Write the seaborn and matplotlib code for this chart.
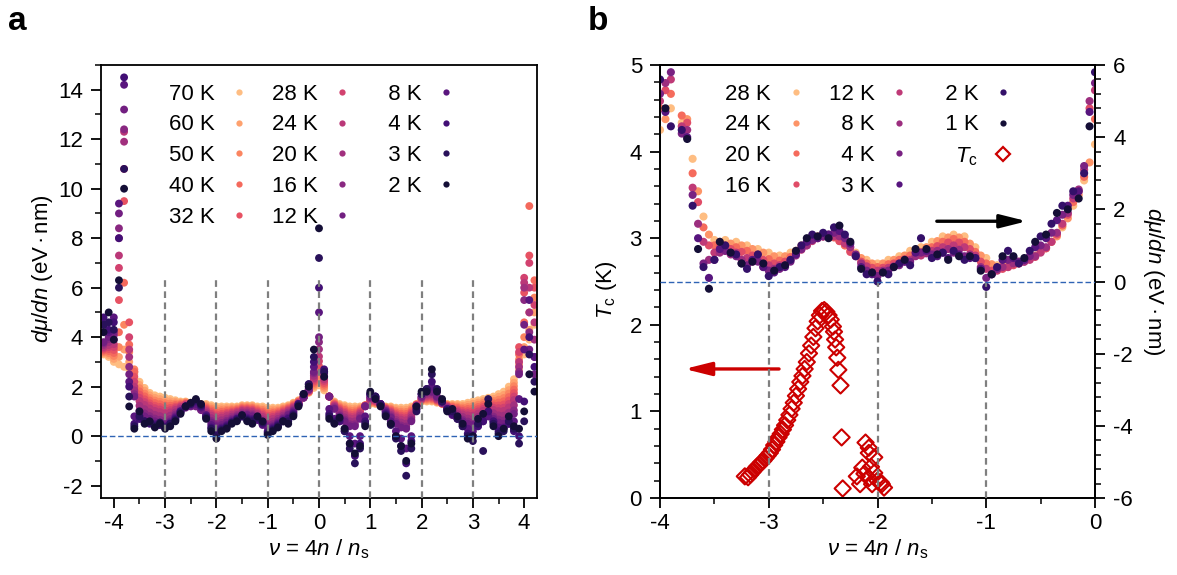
import numpy as np
import pandas as pd
import matplotlib
matplotlib.use('Agg')
import matplotlib.pyplot as plt
from matplotlib.lines import Line2D
from matplotlib.ticker import MultipleLocator
import seaborn as sns

# ---------------- panel a : dmu/dn (eV nm) vs filling, 70 K ... 2 K ----------------
NU_A = [-4.2, -4.1, -4.0, -3.9, -3.8, -3.7, -3.6, -3.5, -3.4, -3.3,
        -3.2, -3.1, -3.0, -2.9, -2.8, -2.7, -2.6, -2.5, -2.4, -2.3,
        -2.2, -2.1, -2.0, -1.9, -1.8, -1.7, -1.6, -1.5, -1.4, -1.3,
        -1.2, -1.1, -1.0, -0.9, -0.8, -0.7, -0.6, -0.5, -0.4, -0.3,
        -0.2, -0.1, 0.0, 0.1, 0.2, 0.3, 0.4, 0.5, 0.6, 0.7,
        0.8, 0.9, 1.0, 1.1, 1.2, 1.3, 1.4, 1.5, 1.6, 1.7,
        1.8, 1.9, 2.0, 2.1, 2.2, 2.3, 2.4, 2.5, 2.6, 2.7,
        2.8, 2.9, 3.0, 3.1, 3.2, 3.3, 3.4, 3.5, 3.6, 3.7,
        3.8, 3.9, 4.0, 4.1, 4.2]

TEMPS_A = [70, 60, 50, 40, 32, 28, 24, 20, 16, 12, 8, 4, 3, 2]

A_70K = [3.3, 3.2, 3.0, 2.9, 2.8, 2.7, 2.5, 2.2, 1.95, 1.75,
         1.65, 1.6, 1.55, 1.5, 1.45, 1.4, 1.4, 1.35, 1.35, 1.3,
         1.3, 1.25, 1.2, 1.2, 1.2, 1.2, 1.2, 1.25, 1.25, 1.25,
         1.2, 1.2, 1.15, 1.15, 1.15, 1.2, 1.25, 1.35, 1.45, 1.6,
         1.75, 1.95, 2.05, 1.85, 1.6, 1.4, 1.3, 1.25, 1.2, 1.2,
         1.2, 1.25, 1.3, 1.3, 1.25, 1.2, 1.2, 1.15, 1.15, 1.15,
         1.2, 1.3, 1.4, 1.4, 1.4, 1.35, 1.3, 1.3, 1.3, 1.3,
         1.3, 1.35, 1.4, 1.45, 1.5, 1.55, 1.6, 1.7, 1.8, 2.0,
         2.3, 2.7, 3.3, 3.9, 4.5]
A_60K = [3.35, 3.28, 3.12, 3.2, 3.5, 3.0, 2.6, 2.07, 1.84, 1.65,
         1.55, 1.5, 1.45, 1.41, 1.39, 1.36, 1.38, 1.34, 1.34, 1.28,
         1.25, 1.18, 1.12, 1.13, 1.14, 1.15, 1.16, 1.21, 1.21, 1.21,
         1.15, 1.13, 1.07, 1.08, 1.09, 1.15, 1.21, 1.32, 1.43, 1.6,
         1.77, 2.02, 2.25, 1.93, 1.6, 1.37, 1.25, 1.19, 1.12, 1.12,
         1.15, 1.25, 1.33, 1.33, 1.26, 1.18, 1.16, 1.09, 1.07, 1.07,
         1.14, 1.29, 1.42, 1.44, 1.44, 1.38, 1.31, 1.28, 1.26, 1.25,
         1.23, 1.27, 1.31, 1.36, 1.42, 1.48, 1.51, 1.59, 1.67, 1.86,
         2.16, 2.9, 3.6, 4.3, 5.0]
A_50K = [3.4, 3.36, 3.24, 3.6, 4.5, 3.4, 2.7, 1.94, 1.72, 1.54,
         1.44, 1.39, 1.34, 1.32, 1.32, 1.32, 1.35, 1.32, 1.32, 1.25,
         1.2, 1.11, 1.04, 1.05, 1.07, 1.09, 1.11, 1.17, 1.17, 1.16,
         1.1, 1.06, 0.99, 1.0, 1.03, 1.1, 1.17, 1.28, 1.41, 1.59,
         1.78, 2.08, 2.44, 2.0, 1.6, 1.34, 1.2, 1.12, 1.04, 1.04,
         1.1, 1.24, 1.36, 1.35, 1.26, 1.16, 1.11, 1.02, 0.99, 0.98,
         1.08, 1.28, 1.44, 1.48, 1.48, 1.4, 1.31, 1.26, 1.22, 1.19,
         1.16, 1.18, 1.21, 1.27, 1.34, 1.4, 1.42, 1.47, 1.54, 1.72,
         2.02, 3.1, 4.0, 5.0, 5.6]
A_40K = [3.45, 3.44, 3.36, 4.2, 6.2, 3.7, 2.6, 1.81, 1.61, 1.44,
         1.34, 1.29, 1.24, 1.23, 1.26, 1.28, 1.33, 1.31, 1.31, 1.23,
         1.15, 1.04, 0.96, 0.98, 1.01, 1.04, 1.07, 1.13, 1.13, 1.12,
         1.05, 0.99, 0.91, 0.93, 0.97, 1.05, 1.13, 1.25, 1.39, 1.59,
         1.8, 2.15, 2.64, 2.08, 1.6, 1.31, 1.15, 1.06, 0.96, 0.96,
         1.05, 1.24, 1.39, 1.38, 1.27, 1.14, 1.07, 0.96, 0.91, 0.9,
         1.02, 1.27, 1.46, 1.52, 1.52, 1.43, 1.32, 1.24, 1.18, 1.14,
         1.09, 1.1, 1.12, 1.18, 1.26, 1.33, 1.33, 1.36, 1.41, 1.58,
         1.88, 3.3, 4.6, 9.3, 6.3]
A_32K = [3.5, 3.52, 3.48, 5.5, 9.5, 4.6, 2.4, 1.68, 1.49, 1.33,
         1.23, 1.18, 1.13, 1.14, 1.19, 1.24, 1.3, 1.29, 1.29, 1.2,
         1.1, 0.97, 0.88, 0.9, 0.94, 0.98, 1.02, 1.09, 1.09, 1.07,
         1.0, 0.92, 0.83, 0.85, 0.91, 1.0, 1.09, 1.21, 1.37, 1.58,
         1.81, 2.21, 2.83, 2.15, 1.6, 1.28, 1.1, 0.99, 0.88, 0.88,
         1.0, 1.23, 1.42, 1.4, 1.27, 1.12, 1.02, 0.89, 0.83, 0.81,
         0.96, 1.26, 1.48, 1.56, 1.56, 1.45, 1.32, 1.22, 1.14, 1.08,
         1.02, 1.01, 1.02, 1.09, 1.18, 1.25, 1.24, 1.24, 1.28, 1.44,
         1.74, 3.6, 5.8, 7.3, 6.0]
A_28K = [3.55, 3.6, 3.6, 6.8, 10.8, 4.0, 2.2, 1.55, 1.38, 1.23,
         1.13, 1.08, 1.03, 1.05, 1.13, 1.2, 1.28, 1.28, 1.28, 1.18,
         1.05, 0.9, 0.8, 0.83, 0.88, 0.93, 0.98, 1.05, 1.05, 1.03,
         0.95, 0.85, 0.75, 0.78, 0.85, 0.95, 1.05, 1.18, 1.35, 1.58,
         1.83, 2.28, 3.03, 2.23, 1.6, 1.25, 1.05, 0.93, 0.8, 0.8,
         0.95, 1.23, 1.45, 1.43, 1.28, 1.1, 0.98, 0.83, 0.75, 0.73,
         0.9, 1.25, 1.5, 1.6, 1.6, 1.48, 1.33, 1.2, 1.1, 1.03,
         0.95, 0.93, 0.93, 1.0, 1.1, 1.18, 1.15, 1.13, 1.15, 1.3,
         1.6, 3.4, 6.4, 7.0, 5.3]
A_24K = [3.6, 3.68, 3.72, 7.3, 12.3, 3.5, 2.0, 1.42, 1.26, 1.12,
         1.02, 0.97, 0.92, 0.96, 1.06, 1.16, 1.25, 1.26, 1.26, 1.15,
         1.0, 0.83, 0.72, 0.75, 0.81, 0.87, 0.93, 1.01, 1.01, 0.98,
         0.9, 0.78, 0.67, 0.7, 0.79, 0.9, 1.01, 1.14, 1.33, 1.57,
         1.84, 2.34, 3.22, 2.3, 1.6, 1.22, 1.0, 0.86, 0.72, 0.72,
         0.9, 1.22, 1.48, 1.45, 1.28, 1.08, 0.93, 0.76, 0.67, 0.64,
         0.84, 1.24, 1.52, 1.64, 1.64, 1.5, 1.33, 1.18, 1.06, 0.97,
         0.88, 0.84, 0.83, 0.91, 1.02, 1.1, 1.06, 1.01, 1.02, 1.16,
         1.46, 3.0, 6.2, 6.0, 4.6]
A_20K = [3.68, 3.8, 3.9, 8.0, 11.9, 3.2, 1.85, 1.23, 1.09, 0.96,
         0.86, 0.81, 0.76, 0.83, 0.96, 1.1, 1.21, 1.24, 1.24, 1.11,
         0.93, 0.73, 0.6, 0.64, 0.71, 0.79, 0.86, 0.95, 0.95, 0.91,
         0.83, 0.68, 0.55, 0.59, 0.7, 0.83, 0.95, 1.09, 1.3, 1.56,
         1.86, 2.44, 3.51, 2.41, 1.6, 1.18, 0.93, 0.76, 0.6, 0.6,
         0.83, 1.21, 1.53, 1.49, 1.29, 1.05, 0.86, 0.66, 0.55, 0.51,
         0.75, 1.23, 1.55, 1.7, 1.7, 1.54, 1.34, 1.15, 1.0, 0.89,
         0.78, 0.71, 0.69, 0.78, 0.9, 0.99, 0.93, 0.84, 0.83, 0.95,
         1.25, 2.8, 6.0, 5.0, 3.9]
A_16K = [3.75, 3.92, 4.08, 8.4, 12.4, 2.8, 1.7, 1.03, 0.92, 0.81,
         0.71, 0.66, 0.61, 0.69, 0.87, 1.04, 1.18, 1.22, 1.22, 1.08,
         0.85, 0.62, 0.48, 0.53, 0.62, 0.71, 0.8, 0.89, 0.89, 0.85,
         0.75, 0.57, 0.43, 0.48, 0.61, 0.75, 0.89, 1.04, 1.27, 1.56,
         1.89, 2.54, 3.8, 2.53, 1.6, 1.13, 0.85, 0.67, 0.48, 0.48,
         0.75, 1.21, 1.57, 1.53, 1.3, 1.02, 0.8, 0.57, 0.43, 0.39,
         0.66, 1.21, 1.58, 1.76, 1.76, 1.58, 1.35, 1.12, 0.94, 0.81,
         0.67, 0.59, 0.55, 0.64, 0.78, 0.88, 0.79, 0.67, 0.63, 0.74,
         1.04, 2.6, 5.5, 4.2, 3.2]
A_12K = [3.8, 4.0, 4.2, 9.0, 13.2, 2.5, 1.6, 0.9, 0.8, 0.7,
         0.6, 0.55, 0.5, 0.6, 0.8, 1.0, 1.15, 1.2, 1.2, 1.05,
         0.8, 0.55, 0.4, 0.45, 0.55, 0.65, 0.75, 0.85, 0.85, 0.8,
         0.7, 0.5, 0.35, 0.4, 0.55, 0.7, 0.85, 1.0, 1.25, 1.55,
         1.9, 2.6, 4.0, 2.6, 1.6, 1.1, 0.8, 0.6, 0.4, 0.4,
         0.7, 1.2, 1.6, 1.55, 1.3, 1.0, 0.75, 0.5, 0.35, 0.3,
         0.6, 1.2, 1.6, 1.8, 1.8, 1.6, 1.35, 1.1, 0.9, 0.75,
         0.6, 0.5, 0.45, 0.55, 0.7, 0.8, 0.7, 0.55, 0.5, 0.6,
         0.9, 2.5, 4.5, 3.5, 2.5]
A_8K = [4.5, 4.2, 4.8, 9.4, 14.2, 2.2, 0.8, 0.7, 0.6, 0.55,
        0.5, 0.45, 0.4, 0.55, 0.75, 1.0, 1.2, 1.25, 1.3, 1.15,
        0.85, 0.45, 0.25, 0.35, 0.45, 0.6, 0.7, 0.8, 0.75, 0.7,
        0.65, 0.45, 0.2, 0.35, 0.5, 0.65, 0.75, 0.95, 1.3, 1.65,
        2.0, 2.8, 5.0, 2.6, 1.1, 0.7, 0.6, 0.3, 0.0, -0.3,
        0.0, 0.8, 1.7, 1.6, 1.3, 0.95, 0.6, 0.2, -0.1, -0.5,
        0.0, 1.1, 1.7, 1.9, 2.0, 1.8, 1.4, 1.1, 0.85, 0.7,
        0.5, 0.3, 0.2, 0.4, 0.6, 0.8, 0.6, 0.35, 0.35, 0.5,
        0.6, 1.5, 3.5, 5.5, 3.2]
A_4K = [4.8, 4.3, 4.6, 8.0, 14.5, 2.0, 0.5, 0.7, 0.6, 0.5,
        0.45, 0.45, 0.35, 0.5, 0.7, 1.0, 1.2, 1.3, 1.4, 1.2,
        0.8, 0.35, 0.1, 0.3, 0.4, 0.55, 0.7, 0.8, 0.7, 0.65,
        0.7, 0.5, 0.15, 0.3, 0.45, 0.6, 0.7, 0.9, 1.3, 1.7,
        2.1, 3.0, 6.0, 2.7, 0.9, 0.6, 0.6, 0.2, -0.3, -0.8,
        -0.3, 0.6, 1.7, 1.6, 1.3, 0.9, 0.5, 0.0, -0.4, -1.1,
        -0.2, 1.1, 1.7, 1.9, 2.2, 1.9, 1.4, 1.1, 0.9, 0.7,
        0.4, 0.1, 0.0, 0.4, 0.6, 1.0, 0.6, 0.2, 0.3, 0.5,
        0.2, 0.0, 1.4, 4.0, 2.8]
A_3K = [4.5, 4.6, 4.3, 6.0, 10.8, 1.6, 0.4, 0.8, 0.6, 0.55,
        0.4, 0.55, 0.35, 0.5, 0.65, 0.95, 1.2, 1.3, 1.45, 1.25,
        0.75, 0.3, 0.0, 0.25, 0.35, 0.55, 0.65, 0.8, 0.65, 0.6,
        0.75, 0.55, 0.1, 0.25, 0.4, 0.6, 0.6, 0.85, 1.25, 1.7,
        2.1, 3.2, 7.2, 2.6, 0.8, 0.55, 0.7, 0.2, -0.5, -1.1,
        -0.5, 0.5, 1.7, 1.6, 1.25, 0.85, 0.45, -0.1, -0.6, -1.6,
        -0.5, 1.0, 1.7, 1.9, 2.5, 1.9, 1.4, 1.05, 1.0, 0.7,
        0.4, 0.0, -0.2, 0.5, -0.6, 1.5, 0.5, 0.1, 0.2, 0.6,
        0.3, -0.3, 0.6, 3.3, 2.2]
A_2K = [4.2, 5.0, 3.9, 6.3, 10.0, 1.2, 0.3, 1.0, 0.5, 0.6,
        0.35, 0.5, 0.3, 0.4, 0.6, 0.9, 1.2, 1.35, 1.5, 1.3,
        0.7, 0.2, -0.1, 0.2, 0.3, 0.5, 0.6, 0.85, 0.6, 0.5,
        0.8, 0.6, 0.05, 0.2, 0.35, 0.6, 0.5, 0.8, 1.2, 1.7,
        2.0, 3.5, 8.4, 2.4, 0.7, 0.5, 0.75, 0.3, -0.3, -0.7,
        -0.4, 0.4, 1.8, 1.5, 1.2, 0.8, 0.5, 0.0, -0.4, -1.0,
        -0.3, 1.2, 1.8, 1.8, 2.7, 1.8, 1.5, 1.0, 1.1, 0.8,
        0.5, -0.1, 0.0, 0.7, 0.9, 1.3, 0.4, 0.0, 0.3, 0.8,
        0.4, 0.3, 1.0, 2.5, 1.8]

CURVES_A = [A_70K, A_60K, A_50K, A_40K, A_32K, A_28K, A_24K,
            A_20K, A_16K, A_12K, A_8K, A_4K, A_3K, A_2K]
GUIDES_A = [-3, -2, -1, 0, 1, 2, 3]

# ---------------- panel b : dmu/dn and Tc, -4 < nu < 0 ----------------
NU_B_EVEN = [-4.0, -3.9, -3.8, -3.7, -3.6, -3.5, -3.4, -3.3, -3.2, -3.1,
             -3.0, -2.9, -2.8, -2.7, -2.6, -2.5, -2.4, -2.3, -2.2, -2.1,
             -2.0, -1.9, -1.8, -1.7, -1.6, -1.5, -1.4, -1.3, -1.2, -1.1,
             -1.0, -0.9, -0.8, -0.7, -0.6, -0.5, -0.4, -0.3, -0.2, -0.1,
             0.0]
NU_B_ODD = [-3.95, -3.85, -3.75, -3.65, -3.55, -3.45, -3.35, -3.25, -3.15, -3.05,
            -2.95, -2.85, -2.75, -2.65, -2.55, -2.45, -2.35, -2.25, -2.15, -2.05,
            -1.95, -1.85, -1.75, -1.65, -1.55, -1.45, -1.35, -1.25, -1.15, -1.05,
            -0.95, -0.85, -0.75, -0.65, -0.55, -0.45, -0.35, -0.25, -0.15, -0.05]

TEMPS_B = [28, 24, 20, 16, 12, 8, 4, 3, 2, 1]

B_28K = [4.2, 4.8, 4.4, 3.4, 1.8, 1.15, 1.15, 1.1, 1.0, 0.9,
         0.8, 0.72, 0.8, 1.0, 1.2, 1.3, 1.25, 1.0, 0.8, 0.6,
         0.5, 0.6, 0.7, 0.85, 0.95, 1.1, 1.25, 1.3, 1.25, 0.95,
         0.65, 0.45, 0.45, 0.55, 0.65, 0.85, 1.1, 1.5, 2.1, 2.8,
         3.8]
B_24K = [4.5, 7.0, 4.5, 2.5, 1.3, 1.1, 1.05, 1.0, 0.9, 0.8,
         0.7, 0.7, 0.85, 1.05, 1.25, 1.28, 1.12, 0.85, 0.65, 0.5,
         0.5, 0.6, 0.72, 0.82, 0.95, 1.12, 1.22, 1.22, 1.05, 0.72,
         0.48, 0.42, 0.48, 0.58, 0.72, 0.92, 1.25, 1.75, 2.4, 3.3]
B_20K = [4.8, 5.2, 4.6, 3.0, 1.5, 1.0, 1.0, 0.95, 0.85, 0.75,
         0.62, 0.58, 0.68, 0.92, 1.15, 1.25, 1.22, 1.0, 0.72, 0.5,
         0.4, 0.48, 0.6, 0.72, 0.82, 0.95, 1.1, 1.18, 1.1, 0.82,
         0.5, 0.35, 0.4, 0.5, 0.62, 0.82, 1.1, 1.55, 2.2, 2.9,
         4.5]
B_16K = [5.3, 7.0, 4.4, 2.2, 1.0, 0.95, 0.9, 0.82, 0.72, 0.6,
         0.5, 0.55, 0.78, 1.0, 1.2, 1.25, 1.12, 0.82, 0.55, 0.38,
         0.38, 0.5, 0.62, 0.72, 0.85, 0.98, 1.08, 1.08, 0.9, 0.55,
         0.3, 0.35, 0.45, 0.55, 0.68, 0.92, 1.3, 1.85, 2.5, 4.8]
B_12K = [5.0, 5.6, 4.3, 2.6, 1.1, 0.8, 0.85, 0.8, 0.65, 0.6,
         0.45, 0.45, 0.6, 0.88, 1.12, 1.25, 1.25, 1.05, 0.7, 0.42,
         0.3, 0.38, 0.5, 0.6, 0.72, 0.85, 0.95, 1.0, 0.95, 0.72,
         0.35, 0.3, 0.4, 0.5, 0.6, 0.8, 1.1, 1.6, 2.3, 3.1,
         5.3]
B_8K = [5.5, 7.0, 4.2, 1.6, 0.6, 0.8, 0.75, 0.6, 0.55, 0.4,
        0.35, 0.45, 0.72, 1.0, 1.22, 1.3, 1.25, 0.95, 0.5, 0.25,
        0.3, 0.42, 0.55, 0.7, 0.78, 0.85, 0.9, 0.88, 0.75, 0.4,
        0.2, 0.4, 0.5, 0.55, 0.7, 0.95, 1.35, 1.9, 2.55, 5.0]
B_4K = [5.2, 5.8, 4.1, 2.4, 0.5, 0.6, 0.85, 0.7, 0.45, 0.55,
        0.3, 0.35, 0.55, 0.9, 1.15, 1.25, 1.35, 1.2, 0.75, 0.3,
        0.15, 0.3, 0.45, 0.55, 0.8, 0.75, 0.8, 0.8, 0.7, 0.65,
        0.1, 0.35, 0.6, 0.55, 0.7, 1.0, 1.35, 1.85, 2.4, 3.2,
        5.5]
B_3K = [4.7, 7.0, 4.0, 1.2, 0.1, 0.9, 0.8, 0.5, 0.6, 0.4,
        0.25, 0.4, 0.75, 1.1, 1.2, 1.3, 1.4, 1.05, 0.4, 0.2,
        0.25, 0.4, 0.55, 0.8, 0.85, 0.7, 0.65, 0.75, 0.65, 0.35,
        0.2, 0.6, 0.65, 0.6, 0.95, 1.2, 1.7, 2.1, 2.5, 4.7]
B_2K = [5.6, 4.3, 4.2, 2.1, 0.4, 0.6, 1.0, 0.75, 0.35, 0.75,
        0.15, 0.4, 0.6, 1.0, 1.3, 1.35, 1.5, 1.3, 0.7, 0.2,
        0.0, 0.2, 0.5, 0.45, 1.2, 0.65, 0.8, 0.85, 0.6, 0.65,
        -0.15, 0.4, 0.85, 0.5, 0.85, 1.25, 1.6, 2.1, 2.5, 3.0,
        5.8]
B_1K = [4.8, 7.0, 3.95, 0.9, -0.2, 1.1, 0.8, 0.5, 0.55, 0.5,
        0.3, 0.45, 0.85, 1.2, 1.25, 1.2, 1.55, 1.1, 0.35, 0.25,
        0.25, 0.4, 0.6, 0.9, 0.9, 0.75, 0.6, 0.7, 0.7, 0.3,
        0.2, 0.7, 0.7, 0.65, 1.1, 1.3, 1.9, 2.0, 2.3, 4.3]

CURVES_B = [(NU_B_EVEN, B_28K), (NU_B_ODD, B_24K), (NU_B_EVEN, B_20K),
            (NU_B_ODD, B_16K), (NU_B_EVEN, B_12K), (NU_B_ODD, B_8K),
            (NU_B_EVEN, B_4K), (NU_B_ODD, B_3K), (NU_B_EVEN, B_2K),
            (NU_B_ODD, B_1K)]
GUIDES_B = [-3, -2, -1]

# superconducting Tc (K)
TC_NU = [-3.22, -3.19, -3.17, -3.15, -3.13, -3.11, -3.09, -3.07, -3.05, -3.03,
         -3.01, -2.99, -2.97, -2.95, -2.93, -2.91, -2.89, -2.87, -2.85, -2.83,
         -2.81, -2.79, -2.77, -2.75, -2.73, -2.71, -2.69, -2.67, -2.65, -2.63,
         -2.61, -2.59, -2.57, -2.55, -2.53, -2.51, -2.49, -2.47, -2.45, -2.43,
         -2.41, -2.40, -2.39, -2.38, -2.37, -2.36, -2.34, -2.33, -2.32,
         -2.11, -2.08, -2.08, -2.03, -2.14, -2.19, -2.16, -2.08, -2.05, -2.03,
         -2.00, -1.97, -1.96, -1.94, -2.12, -2.06]
TC_K = [0.25, 0.24, 0.27, 0.30, 0.33, 0.36, 0.38, 0.41, 0.43, 0.46,
        0.49, 0.52, 0.56, 0.61, 0.65, 0.70, 0.74, 0.79, 0.84, 0.90,
        0.96, 1.03, 1.10, 1.18, 1.26, 1.34, 1.41, 1.49, 1.57, 1.67,
        1.76, 1.86, 1.96, 2.04, 2.11, 2.16, 2.17, 2.15, 2.11, 2.06,
        1.98, 1.92, 1.83, 1.74, 1.62, 1.48, 1.30, 0.70, 0.11,
        0.64, 0.58, 0.52, 0.47, 0.35, 0.25, 0.16, 0.23, 0.16, 0.29,
        0.20, 0.18, 0.16, 0.12, 0.28, 0.36]

# ---------------- style ----------------
sns.set_style('ticks')
plt.rcParams['font.family'] = ['Liberation Sans', 'DejaVu Sans']
plt.rcParams['mathtext.fontset'] = 'custom'
plt.rcParams['mathtext.rm'] = 'Liberation Sans'
plt.rcParams['mathtext.it'] = 'Liberation Sans:italic'
plt.rcParams['mathtext.bf'] = 'Liberation Sans:bold'
plt.rcParams['axes.unicode_minus'] = False
plt.rcParams['axes.linewidth'] = 1.3
for key in ('text.color', 'axes.labelcolor', 'xtick.color', 'ytick.color', 'axes.edgecolor'):
    plt.rcParams[key] = 'black'

magma = sns.color_palette('magma', as_cmap=True)
colors_a = [magma(v) for v in np.linspace(0.86, 0.1, len(TEMPS_A))]
colors_b = [magma(v) for v in np.linspace(0.86, 0.1, len(TEMPS_B))]
RED = '#cc0000'
BLUE = '#2f64b5'
GREY = '#7f7f7f'


def klabel(t):
    # two spaces are as wide as one digit, so every label has the same width
    return f'{t} K' if t >= 10 else f'  {t} K'


labels_a = [f'{t} K' for t in TEMPS_A]
df_a = pd.DataFrame({
    'nu': NU_A * len(TEMPS_A),
    'dmu': sum(CURVES_A, []),
    'T': sum([[lab] * len(NU_A) for lab in labels_a], []),
})

labels_b = [f'{t} K' for t in TEMPS_B]
rows = []
for lab, (xs, ys) in zip(labels_b, CURVES_B):
    for x, y in zip(xs, ys):
        rows.append((x, y, lab))
df_b = pd.DataFrame(rows, columns=['nu', 'dmu', 'T'])

fig = plt.figure(figsize=(11.77, 5.75), dpi=100)
ax_a = fig.add_axes([101 / 1177, 77 / 575, 436 / 1177, 433 / 575])
ax_b = fig.add_axes([660 / 1177, 77 / 575, 435 / 1177, 433 / 575])
ax_b2 = ax_b.twinx()

# ---- panel a
sns.scatterplot(data=df_a, x='nu', y='dmu', hue='T', hue_order=labels_a,
                palette=colors_a, s=32, linewidth=0, legend=False, ax=ax_a)
ax_a.vlines(GUIDES_A, -2.5, 6.3, colors=GREY, linestyles=(0, (3, 2)), lw=1.6, zorder=3)
ax_a.axhline(0, color=BLUE, lw=1.0, ls=(0, (4, 2)), zorder=3)
ax_a.set_xlim(-4.25, 4.25)
ax_a.set_ylim(-2.5, 15)
ax_a.xaxis.set_major_locator(MultipleLocator(1))
ax_a.xaxis.set_minor_locator(MultipleLocator(0.5))
ax_a.yaxis.set_major_locator(MultipleLocator(2))
ax_a.yaxis.set_minor_locator(MultipleLocator(1))
ax_a.set_xlabel(r'$\nu$ = 4$n$ / $n_{\rm s}$', fontsize=16, labelpad=2)
ax_a.set_ylabel(r'$d\mu/dn$ (eV$\,$·$\,$nm)', fontsize=16)
ax_a.yaxis.set_label_coords(-0.105, 0.53)

h_a = [Line2D([0], [0], marker='o', ls='none', mfc=c, mec='none', ms=4.5) for c in colors_a]
ax_a.legend(h_a, [klabel(t) for t in TEMPS_A], ncol=3, markerfirst=False, frameon=False,
            loc='upper left', bbox_to_anchor=(0.155, 0.957), borderaxespad=0,
            borderpad=0, handlelength=1.0, handletextpad=0.6,
            columnspacing=1.0, labelspacing=0.44, fontsize=16)

# ---- panel b
sns.scatterplot(data=df_b, x='nu', y='dmu', hue='T', hue_order=labels_b,
                palette=colors_b, s=34, linewidth=0, legend=False, ax=ax_b2)
ax_b2.vlines(GUIDES_B, -6, 0, colors=GREY, linestyles=(0, (3, 2)), lw=1.6, zorder=3)
ax_b2.axhline(0, color=BLUE, lw=1.0, ls=(0, (4, 2)), zorder=3)
sns.scatterplot(x=TC_NU, y=TC_K, marker='D', s=68, facecolors='none',
                edgecolor=RED, linewidth=1.5, ax=ax_b)

ax_b.set_xlim(-4, 0)
ax_b.set_ylim(0, 5)
ax_b2.set_ylim(-6, 6)
ax_b.xaxis.set_major_locator(MultipleLocator(1))
ax_b.xaxis.set_minor_locator(MultipleLocator(0.5))
ax_b.yaxis.set_major_locator(MultipleLocator(1))
ax_b.yaxis.set_minor_locator(MultipleLocator(0.2))
ax_b2.yaxis.set_major_locator(MultipleLocator(2))
ax_b2.yaxis.set_minor_locator(MultipleLocator(0.4))
ax_b.set_xlabel(r'$\nu$ = 4$n$ / $n_{\rm s}$', fontsize=16, labelpad=2)
ax_b.set_ylabel(r'$T_{\rm c}$ (K)', fontsize=16)
ax_b.yaxis.set_label_coords(-0.095, 0.48)
ax_b2.set_ylabel(r'$d\mu/dn$ (eV$\,$·$\,$nm)', fontsize=16, rotation=270, labelpad=24)
ax_b2.set_xlabel('')

ax_b2.annotate('', xy=(-0.6, 1.67), xytext=(-1.48, 1.67),
               arrowprops=dict(arrowstyle='-|>,head_length=0.8,head_width=0.2',
                               color='black', lw=2.4, mutation_scale=20))
ax_b.annotate('', xy=(-3.8, 1.49), xytext=(-2.88, 1.49),
              arrowprops=dict(arrowstyle='-|>,head_length=0.8,head_width=0.2',
                              color=RED, lw=2.4, mutation_scale=20))

h_b = [Line2D([0], [0], marker='o', ls='none', mfc=c, mec='none', ms=4.5) for c in colors_b]
h_b.append(Line2D([0], [0], marker='D', ls='none', mfc='none', mec=RED, mew=1.6, ms=7.5))
ax_b2.legend(h_b, [klabel(t) for t in TEMPS_B] + [r'$T_{\rm c}$'], ncol=3,
             markerfirst=False, frameon=False,
             loc='upper left', bbox_to_anchor=(0.15, 0.957), borderaxespad=0,
             borderpad=0, handlelength=1.0, handletextpad=0.6,
             columnspacing=1.0, labelspacing=0.44, fontsize=16)

for ax in (ax_a, ax_b, ax_b2):
    ax.tick_params(which='major', direction='out', length=7, width=1.3,
                   labelsize=16, pad=6, color='black')
    ax.tick_params(which='minor', direction='out', length=4, width=1.1, color='black')
    for sp in ax.spines.values():
        sp.set_visible(True)
        sp.set_color('black')
for ax in (ax_a, ax_b):
    ax.tick_params(axis='x', which='major', pad=4)
ax_a.tick_params(which='both', top=False, right=False)
ax_b.tick_params(which='both', top=False, right=False)
ax_b2.tick_params(which='both', left=False, right=True, labelright=True)

fig.text(8 / 1177, 1 - 22 / 575, 'a', fontsize=24, fontweight='bold', va='center')
fig.text(588 / 1177, 1 - 22 / 575, 'b', fontsize=24, fontweight='bold', va='center')

fig.savefig('out.png', dpi=100)
